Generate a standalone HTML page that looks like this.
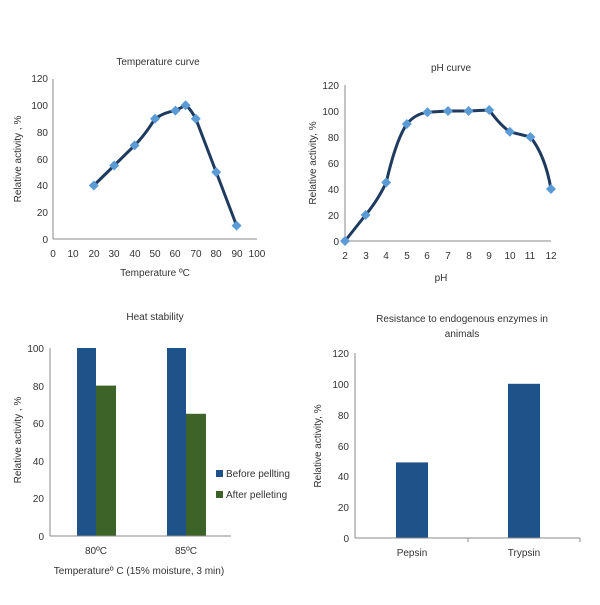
<!DOCTYPE html><html><head><style>body{margin:0;background:#fff}svg{font-family:"Liberation Sans",sans-serif;fill:#222}</style></head><body>
<svg width="600" height="600" xmlns="http://www.w3.org/2000/svg">
<g font-size="10" fill="#333">
<!-- Chart 1 -->
<text x="158" y="65" text-anchor="middle">Temperature curve</text>
<g stroke="#888" stroke-width="1"><line x1="53" y1="79" x2="53" y2="239"/><line x1="53" y1="239" x2="257" y2="239"/></g>
<g text-anchor="end"><text x="48" y="243">0</text><text x="48" y="216">20</text><text x="48" y="189">40</text><text x="48" y="163">60</text><text x="48" y="136">80</text><text x="48" y="109">100</text><text x="48" y="82">120</text></g>
<g text-anchor="middle"><text x="53" y="257">0</text><text x="73" y="257">10</text><text x="94" y="257">20</text><text x="114" y="257">30</text><text x="135" y="257">40</text><text x="155" y="257">50</text><text x="175" y="257">60</text><text x="196" y="257">70</text><text x="216" y="257">80</text><text x="237" y="257">90</text><text x="257" y="257">100</text></g>
<text x="155" y="276" text-anchor="middle">Temperature ºC</text>
<text transform="translate(21,159) rotate(-90)" text-anchor="middle">Relative activity , %</text>
<path d="M93.8,185.5 L114.2,165.5 L134.6,145.4 Q145,135 155,118.7 Q165,112 175.4,110.6 L185.6,105.3 Q190,108 195.8,118.7 L216.2,172.1 L236.6,225.6" fill="none" stroke="#1f3a5f" stroke-width="3" stroke-linejoin="round"/>
<g fill="#5b9bd5"><path d="M93.8,180.5l5,5-5,5-5-5z"/><path d="M114.2,160.5l5,5-5,5-5-5z"/><path d="M134.6,140.4l5,5-5,5-5-5z"/><path d="M155,113.7l5,5-5,5-5-5z"/><path d="M175.4,105.6l5,5-5,5-5-5z"/><path d="M185.6,100.3l5,5-5,5-5-5z"/><path d="M195.8,113.7l5,5-5,5-5-5z"/><path d="M216.2,167.1l5,5-5,5-5-5z"/><path d="M236.6,220.6l5,5-5,5-5-5z"/></g>
<!-- Chart 2 -->
<text x="451" y="71" text-anchor="middle">pH curve</text>
<g stroke="#888"><line x1="345" y1="85" x2="345" y2="241"/><line x1="345" y1="241" x2="551" y2="241"/></g>
<g text-anchor="end"><text x="339" y="245">0</text><text x="339" y="219">20</text><text x="339" y="193">40</text><text x="339" y="167">60</text><text x="339" y="141">80</text><text x="339" y="115">100</text><text x="339" y="89">120</text></g>
<g text-anchor="middle"><text x="345" y="259">2</text><text x="366" y="259">3</text><text x="386" y="259">4</text><text x="407" y="259">5</text><text x="427" y="259">6</text><text x="448" y="259">7</text><text x="469" y="259">8</text><text x="489" y="259">9</text><text x="510" y="259">10</text><text x="530" y="259">11</text><text x="551" y="259">12</text></g>
<text x="441" y="281" text-anchor="middle">pH</text>
<text transform="translate(316,163) rotate(-90)" text-anchor="middle">Relative activity, %</text>
<path d="M345,241 L365.6,215 Q378,200 386.2,182.5 Q396,140 406.8,124 Q415,114 427.4,112.3 L448,111 L468.6,111 L489.2,110 Q500,125 509.8,131.8 L530.4,137 Q545,155 551,189" fill="none" stroke="#1f3a5f" stroke-width="3" stroke-linejoin="round"/>
<g fill="#5b9bd5"><path d="M345,236l5,5-5,5-5-5z"/><path d="M365.6,210l5,5-5,5-5-5z"/><path d="M386.2,177.5l5,5-5,5-5-5z"/><path d="M406.8,119l5,5-5,5-5-5z"/><path d="M427.4,107.3l5,5-5,5-5-5z"/><path d="M448,106l5,5-5,5-5-5z"/><path d="M468.6,106l5,5-5,5-5-5z"/><path d="M489.2,105l5,5-5,5-5-5z"/><path d="M509.8,126.8l5,5-5,5-5-5z"/><path d="M530.4,132l5,5-5,5-5-5z"/><path d="M551,184l5,5-5,5-5-5z"/></g>
<!-- Chart 3 -->
<text x="155" y="320" text-anchor="middle">Heat stability</text>
<rect x="77" y="348" width="19" height="188" fill="#1f5288"/>
<rect x="96" y="385.6" width="20" height="150.4" fill="#3e6329"/>
<rect x="167" y="348" width="19" height="188" fill="#1f5288"/>
<rect x="186" y="413.8" width="20" height="122.2" fill="#3e6329"/>
<g stroke="#888"><line x1="50" y1="348" x2="50" y2="536"/><line x1="50" y1="536" x2="231" y2="536"/></g>
<g text-anchor="end"><text x="44" y="540">0</text><text x="44" y="502">20</text><text x="44" y="465">40</text><text x="44" y="427">60</text><text x="44" y="390">80</text><text x="44" y="352">100</text></g>
<text x="96" y="554" text-anchor="middle">80ºC</text><text x="186" y="554" text-anchor="middle">85ºC</text>
<text x="139" y="574" text-anchor="middle">Temperatureº C (15% moisture, 3 min)</text>
<text transform="translate(21,440) rotate(-90)" text-anchor="middle">Relative activity , %</text>
<rect x="216" y="470" width="7" height="7" fill="#1f5288"/><text x="226" y="477">Before pellting</text>
<rect x="216" y="491" width="7" height="7" fill="#3e6329"/><text x="226" y="498">After pelleting</text>
<!-- Chart 4 -->
<text x="462" y="322" text-anchor="middle">Resistance to endogenous enzymes in</text>
<text x="462" y="337" text-anchor="middle">animals</text>
<rect x="396" y="462.4" width="32" height="75.6" fill="#1f5288"/>
<rect x="508" y="383.8" width="32" height="154.2" fill="#1f5288"/>
<g stroke="#888"><line x1="355" y1="353" x2="355" y2="538"/><line x1="355" y1="538" x2="580" y2="538"/><line x1="468" y1="538" x2="468" y2="542"/><line x1="580" y1="538" x2="580" y2="542"/></g>
<g text-anchor="end"><text x="349" y="542">0</text><text x="349" y="511">20</text><text x="349" y="480">40</text><text x="349" y="450">60</text><text x="349" y="419">80</text><text x="349" y="388">100</text><text x="349" y="357">120</text></g>
<text x="412" y="556" text-anchor="middle">Pepsin</text><text x="524" y="556" text-anchor="middle">Trypsin</text>
<text transform="translate(321,446) rotate(-90)" text-anchor="middle">Relative activity, %</text>
</g>
</svg></body></html>
